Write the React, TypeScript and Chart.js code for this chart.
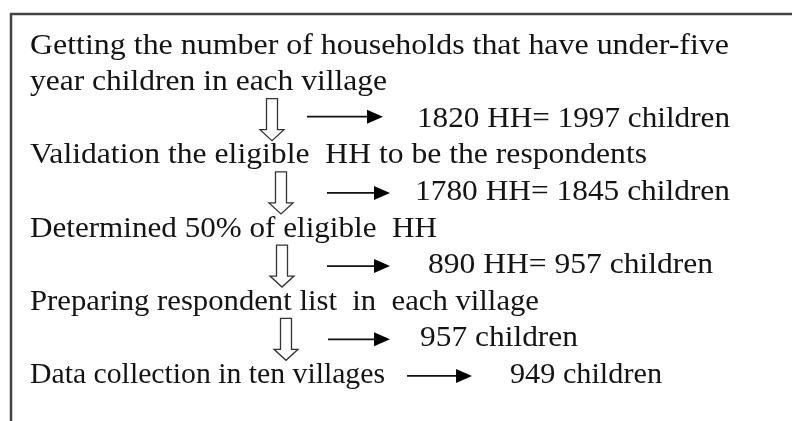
import { useEffect, useRef } from "react";
import { Chart, registerables } from "chart.js";

Chart.register(...registerables);

// Flow steps (text) and the row each one sits on
const stepLines = [
  "Getting the number of households that have under-five",
  "year children in each village",
  "Validation the eligible  HH to be the respondents",
  "Determined 50% of eligible  HH",
  "Preparing respondent list  in  each village",
  "Data collection in ten villages",
];
const stepRows = [0, 1, 3, 5, 7, 9];

// Results of each step
const resultHouseholds: (number | null)[] = [1820, 1780, 890, null, null];
const resultChildren = [1997, 1845, 957, 957, 949];
const resultRows = [2, 4, 6, 8, 9];

const resultLabels = resultChildren.map((c, i) =>
  resultHouseholds[i] != null ? `${resultHouseholds[i]} HH= ${c} children` : `${c} children`
);

const FONT = "30px 'Liberation Serif', 'Times New Roman', serif";
const INK = "#141414";

const flowPlugin = {
  id: "flowText",
  afterDraw(chart: any) {
    const { ctx } = chart;
    const xs = chart.scales.x;
    const ys = chart.scales.y;
    const X = (v: number) => xs.getPixelForValue(v);
    const Y = (v: number) => ys.getPixelForValue(v);
    // draw text from x0 so that it ends at x1 (the source image is stretched)
    const text = (t: string, x0: number, x1: number, y: number) => {
      const w = ctx.measureText(t).width;
      const s = (x1 - x0) / w;
      ctx.save();
      ctx.translate(x0, y);
      ctx.scale(s, 1);
      ctx.fillText(t, 0, 0);
      ctx.restore();
    };
    ctx.save();

    // frame
    ctx.strokeStyle = "#444";
    ctx.lineWidth = 2.5;
    ctx.beginPath();
    ctx.moveTo(X(11), 440);
    ctx.lineTo(X(11), 14);
    ctx.lineTo(X(800), 14);
    ctx.stroke();

    // step text
    ctx.fillStyle = INK;
    ctx.font = FONT;
    ctx.textBaseline = "alphabetic";
    ctx.textAlign = "left";
    const stepEnd = [729, 387, 647, 437, 539, 385];
    stepLines.forEach((t, i) => {
      text(t, X(30), X(stepEnd[i]), Y(stepRows[i]));
    });

    // result rows
    const downX = [272, 281, 282, 286];
    const rightStart = [307, 327, 327, 328, 407];
    const rightEnd = [383, 390, 390, 390, 472];
    const rightDy = [-10, -7, -7, -7, -7];
    const labelX = [417, 415, 428, 420, 510];
    const labelEnd = [730, 730, 713, 578, 662];
    resultRows.forEach((r, i) => {
      const yb = Y(r);
      // hollow down arrow (not on last row)
      if (i < 4) {
        const cx = X(downX[i]);
        const top = yb - 28;
        const tip = yb + 14;
        const headTop = tip - 11;
        const sw = 5.5;
        const hw = 12;
        ctx.beginPath();
        ctx.moveTo(cx - sw, top);
        ctx.lineTo(cx + sw, top);
        ctx.lineTo(cx + sw, headTop);
        ctx.lineTo(cx + hw, headTop);
        ctx.lineTo(cx, tip);
        ctx.lineTo(cx - hw, headTop);
        ctx.lineTo(cx - sw, headTop);
        ctx.closePath();
        ctx.fillStyle = "#fff";
        ctx.fill();
        ctx.strokeStyle = "#333";
        ctx.lineWidth = 1.3;
        ctx.stroke();
      }
      // right arrow
      const x0 = X(rightStart[i]);
      const x1 = X(rightEnd[i]);
      const ay = yb + rightDy[i];
      ctx.strokeStyle = "#111";
      ctx.lineWidth = 1.8;
      ctx.beginPath();
      ctx.moveTo(x0, ay);
      ctx.lineTo(x1 - 14, ay);
      ctx.stroke();
      ctx.fillStyle = "#000";
      ctx.beginPath();
      ctx.moveTo(x1, ay);
      ctx.lineTo(x1 - 16, ay - 7);
      ctx.lineTo(x1 - 16, ay + 7);
      ctx.closePath();
      ctx.fill();
      // label
      ctx.fillStyle = INK;
      ctx.font = FONT;
      text(resultLabels[i], X(labelX[i]), X(labelEnd[i]), yb);
    });
    ctx.restore();
  },
};

const BASE = 53.5;
const STEP = 36.6;

export default function App() {
  const ref = useRef<HTMLCanvasElement | null>(null);
  useEffect(() => {
    document.body.style.margin = "0";
    const chart = new Chart(ref.current!, {
      type: "scatter",
      data: { datasets: [{ data: [], pointRadius: 0 }] },
      options: {
        animation: false,
        responsive: false,
        layout: { padding: 0 },
        plugins: { legend: { display: false }, tooltip: { enabled: false } },
        scales: {
          x: { type: "linear", min: 0, max: 792, display: false },
          y: { type: "linear", min: -BASE / STEP, max: (421 - BASE) / STEP, reverse: true, display: false },
        },
      },
      plugins: [flowPlugin],
    });
    return () => chart.destroy();
  }, []);
  return (
    <div style={{ width: 792, height: 421, background: "#fff" }}>
      <canvas ref={ref} width={792} height={421} />
    </div>
  );
}
